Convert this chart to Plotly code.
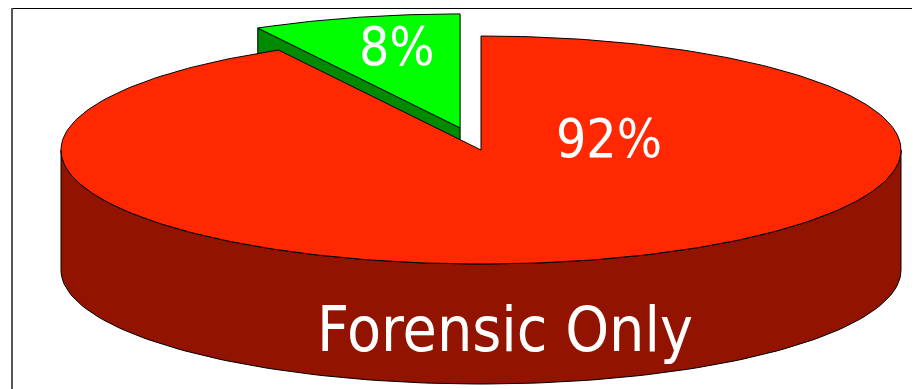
import numpy as np
import plotly.graph_objects as go

# Data
labels = ["Forensic Only", "Other"]
values = [92, 8]
pct_labels = ["92%", "8%"]
top_colors = ["#FF2800", "#00FF00"]
side_colors = ["#921400", "#008A00"]

# Geometry (layout, in page-pixel axis units)
W, H = 920, 389
OFF = 8  # default page body margin
cx, cy = 481, 150
rx, ry = 420, 114
depth = 120
explode = [0.0, 0.2]
start_deg = 90.0  # first slice starts at top; slices go clockwise

def pt(theta, dx=0.0, dy=0.0):
    t = np.radians(theta)
    return cx + rx * np.cos(t) + dx, cy - ry * np.sin(t) + dy

fig = go.Figure()

total = sum(values)
# slice angle ranges (ccw degrees), slices laid out clockwise from the top
ranges = []
a = start_deg
for v in values:
    sweep = 360.0 * v / total
    ranges.append((a - sweep, a))
    a -= sweep

def add_poly(xs, ys, color):
    xs = list(xs); ys = list(ys)
    fig.add_trace(go.Scatter(x=xs + [xs[0]], y=ys + [ys[0]], mode="lines",
                             fill="toself", fillcolor=color,
                             line=dict(color="black", width=1),
                             hoverinfo="skip", showlegend=False))

def offsets(i):
    lo, hi = ranges[i]
    mid = np.radians((lo + hi) / 2)
    ox = explode[i] * rx * np.cos(mid)
    oy = -explode[i] * ry * np.sin(mid)
    return lo, hi, ox, oy

# ---- small (exploded) slice first: it sits behind ----
lo, hi, ox, oy = offsets(1)
gcx, gcy = cx + ox, cy + oy
ex, ey = pt(hi, ox, oy)
add_poly([gcx, ex, ex, gcx], [gcy, ey, ey + depth, gcy + depth], side_colors[1])
th = np.linspace(lo, hi, 60)
add_poly([gcx] + [pt(t, ox, oy)[0] for t in th],
         [gcy] + [pt(t, ox, oy)[1] for t in th], top_colors[1])

# ---- large slice ----
lo, hi, ox, oy = offsets(0)
a0 = ranges[1][1] % 360          # boundary with small slice
a1 = ranges[0][1] + 360          # back to the top
# visible outer front side (180..360 deg)
th = np.linspace(180, 360, 120)
add_poly([pt(t)[0] for t in th] + [pt(t)[0] for t in th[::-1]],
         [pt(t)[1] for t in th] + [pt(t)[1] + depth for t in th[::-1]],
         side_colors[0])
th = np.linspace(a0, a1, 300)
add_poly([cx + ox] + [pt(t, ox, oy)[0] for t in th],
         [cy + oy] + [pt(t, ox, oy)[1] for t in th], top_colors[0])

font = "DejaVu Sans Condensed, DejaVu Sans, Liberation Sans, sans-serif"
annotations = [
    dict(x=609, y=138, text=pct_labels[0], font=dict(size=53, color="white", family=font)),
    dict(x=397, y=46, text=pct_labels[1], font=dict(size=53, color="white", family=font)),
    dict(x=505, y=329, text=labels[0], font=dict(size=62, color="white", family=font)),
]
for an in annotations:
    an.update(xref="x", yref="y", showarrow=False, xanchor="center", yanchor="middle")

fig.update_layout(
    width=W, height=H, margin=dict(l=0, r=0, t=0, b=0),
    paper_bgcolor="white", plot_bgcolor="white",
    xaxis=dict(range=[OFF, W + OFF], visible=False, fixedrange=True),
    yaxis=dict(range=[H + OFF, OFF], visible=False, fixedrange=True),
    annotations=annotations,
    shapes=[
        dict(type="line", xref="x", yref="y", x0=12, y0=8, x1=W + OFF, y1=8, line=dict(color="black", width=2)),
        dict(type="line", xref="x", yref="y", x0=12, y0=8, x1=12, y1=H + OFF, line=dict(color="#555555", width=2)),
    ],
)
fig.write_html("out.html")
